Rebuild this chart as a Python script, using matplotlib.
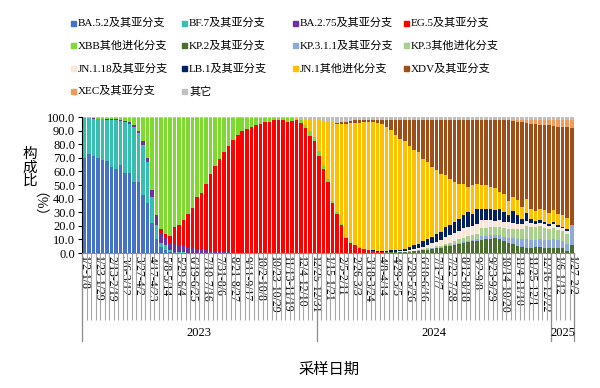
import numpy as np
import pandas as pd
import matplotlib
matplotlib.use("Agg")
import matplotlib.pyplot as plt
from matplotlib.patches import Rectangle
import matplotlib.transforms as mtransforms

plt.rcParams['font.family'] = ['Liberation Serif', 'Noto Sans CJK SC']

# DATA (weekly share, %), stack order bottom -> top
FIRST_WEEK = "2023-01-02"
N_WEEKS = 109

names = ["BA.5.2及其亚分支", "BF.7及其亚分支", "BA.2.75及其亚分支", "EG.5及其亚分支",
         "XBB其他进化分支", "KP.2及其亚分支", "KP.3.1.1及其亚分支", "KP.3其他进化分支",
         "JN.1.18及其亚分支", "LB.1及其亚分支", "JN.1其他进化分支", "XDV及其亚分支",
         "XEC及其亚分支", "其它"]
colors = ["#4472C4", "#36BFB0", "#7030A0", "#FF0000", "#7CDB2E", "#4A6E2E", "#8EA9DB",
          "#A9D18E", "#FBE5D6", "#002060", "#FFC000", "#9E4F18", "#F19A5C", "#BFBFBF"]

ba52 = [69.5, 72.5, 71, 69.5, 68.5, 67.5, 63, 62, 64.5, 58.6, 58.6, 52.5, 52.5, 43, 36.5,
        22, 10.5, 4.4, 2.5, 1, 0.5, 0.3, 0.2] + [0] * 86
bf7 = [29.5, 26.5, 27.5, 29, 29.9, 30.6, 35, 35.8, 32.8, 37.6, 36.6, 40.5, 35.5, 36.5, 30.5,
       19, 10, 2.6, 3.5, 1, 0.5, 0.3, 0.2] + [0] * 86
ba275 = [0, 0, 0.5, 0.3, 0.3, 0.5, 0.5, 0.5, 0.5, 0.8, 0.8, 1, 1.5, 2.5, 3, 5, 6.5, 7.5,
         5.5, 5.5, 5.5, 5.5, 4.5, 4, 3.5, 3, 3, 2, 1.5, 1, 1, 0.7, 0.5, 0.3, 0.2, 0.1] + [0] * 73
eg5 = [0] * 16 + [1, 3, 2.7, 5, 12.5, 14.2, 19.1, 25, 29.8, 38, 41, 49, 56.5, 63, 68, 73.3,
                  78.5, 82.7, 86.8, 89.6, 91.4, 92.6, 93.9, 95.1, 96.3, 96.3, 97.5, 97.8, 97.5,
                  96.3, 96.9, 97.5, 95.5, 92, 86, 82, 71.5, 62, 52, 36.5, 29, 20.5, 11, 7.5,
                  5.8, 4, 3, 2.2, 1.5, 1, 0.5, 0.3, 0.2] + [0] * 40
xbb = [0, 0, 0, 0.2, 0.3, 0.4, 0.5, 0.7, 1.2, 2, 3, 5, 9.5, 17, 29, 53, 71, 81.5, 84.8, 86.5,
       80, 78.7, 75, 70, 65.7, 58, 55, 48, 41, 35, 30, 25, 20, 16, 12, 9.3, 7.6, 6.4, 5.1, 3.9,
       2.7, 2.7, 1.5, 1.2, 1.5, 2.7, 2.1, 1.2, 2, 2, 4, 3.2, 3.5, 2.5, 2.5, 2, 1.5, 1, 0.5,
       0.5, 0.3, 0.2] + [0] * 47
kp2 = [0] * 66 + [0.2, 0.3, 0.4, 0.5, 0.6, 0.8, 1.0, 1.3, 1.6, 2.0, 2.5, 3.0, 3.5, 4.0, 5.0,
                  5.5, 6.0, 6.8, 7.5, 8.0, 8.5, 9.0, 9.8, 10.0, 10.5, 11.0, 10.0, 8.6, 7.4, 6.5,
                  5.0, 4.5, 4.0, 3.8, 4.4, 4.2, 3.7, 3.5, 3.7, 3.5, 4.0, 1.5, 5.6]
kp311 = [0] * 70 + [0.1, 0.1, 0.2, 0.2, 0.3, 0.3, 0.4, 0.4, 0.5, 0.5, 0.6, 0.7, 0.8, 0.9, 1.0,
                    1.0, 1.0, 1.0, 2.5, 2.5, 2.5, 2.3, 3.0, 3.5, 4.0, 4.5, 5.0, 5.5, 6.0, 6.0,
                    5.5, 6.0, 6.0, 6.0, 6.5, 6.0, 5.0, 5.0, 14.7]
kp3 = [0] * 71 + [0.1, 0.2, 0.3, 0.3, 0.4, 0.5, 0.6, 0.8, 1.0, 1.2, 1.5, 2.0, 2.4, 2.8, 3.2,
                  3.5, 3.7, 6.0, 6.0, 6.0, 5.5, 6.0, 6.5, 6.5, 7.0, 7.5, 8.0, 10.0, 9.5, 9.0,
                  9.5, 9.0, 8.5, 8.5, 7.5, 7.0, 7.5, 0]
jn118 = [0] * 66 + [0.3, 0.4, 0.5, 0.6, 0.7, 0.8, 1.0, 1.2, 1.5, 2.0, 2.5, 3.0, 3.6, 4.0, 5.0,
                    5.3, 5.8, 6.3, 6.8, 7.2, 6.5, 7.4, 5.7, 5.5, 5.6, 5.0, 5.5, 4.5, 4.6, 4.0,
                    3.5, 3.2, 3.4, 2.7, 2.4, 2.3, 2.4, 2.1, 2.4, 2.2, 2.1, 2.4, 0]
lb1 = [0] * 63 + [0.3, 0.5, 0.8, 0.8, 0.8, 1.0, 1.2, 1.1, 1.2, 2.0, 2.6, 3.2, 3.9, 4.6, 4.8,
                  5.8, 5.9, 7.3, 7.3, 8.2, 8.8, 9.6, 10.7, 9.5, 11.5, 8.6, 8.0, 8.0, 7.5, 7.5,
                  7.0, 5.5, 9.0, 7.0, 4.0, 6.0, 3.0, 2.0, 2.0, 1.5, 1.5, 1.5, 1.1, 1.0, 1.0, 0]
jn1 = [0] * 47 + [0.3, 1.0, 4.5, 8.5, 13.3, 22.5, 32.5, 42.0, 57.5, 64.7, 73.5, 83.5, 87.5,
                  89.4, 91.3, 93.0, 93.5, 94.0, 93.7, 93.2, 91.2, 88.4, 84.7, 81.5, 79.0, 74.6,
                  69.9, 67.4, 60.7, 56.5, 51.4, 46.6, 42.9, 38.0, 34.3, 29.4, 25.8, 23.3, 18.4,
                  20.8, 18.4, 17.6, 17.8, 15.9, 16.5, 12.9, 13.5, 10.0, 10.2, 10.7, 8.6, 10.1,
                  7.6, 7.3, 8.6, 9.2, 8.0, 9.2, 8.6, 8.6, 8.3, 0]
xdv = [0] * 56 + [0.3, 1, 1.5, 1.5, 2, 2, 2, 2, 2, 2.5, 3, 5, 7.5, 11, 14, 16, 19, 22.5, 23.7,
                  28.7, 31, 34.8, 37.2, 39.7, 40.9, 43.4, 45.8, 47, 47, 49.5, 48.2, 47, 47.8,
                  48.2, 49.5, 50.2, 53.1, 54.4, 59.5, 55.8, 57.8, 62.2, 56, 62.4, 64.4, 61.9,
                  62.2, 64.4, 61.7, 64.1, 65.3, 66.8, 71.7]
xec = [0] * 94 + [0.5, 1, 1.5, 2, 2.5, 3, 3, 3.5, 4, 4, 4.5, 5, 5, 5.5, 6]
other = [1.0] * 48 + [1.5, 1.5, 1.5, 1.5, 2.5, 3, 3.5, 4, 4.5, 4, 3.5, 3, 2.5, 2.5] + [2.0] * 47

series = [ba52, bf7, ba275, eg5, xbb, kp2, kp311, kp3, jn118, lb1, jn1, xdv, xec, other]

# weeks and labels
starts = pd.date_range(FIRST_WEEK, periods=N_WEEKS, freq="7D")
ends = starts + pd.Timedelta(days=6)
week_labels = [f"{s.month}/{s.day}-{e.month}/{e.day}" for s, e in zip(starts, ends)]
years = np.array(ends.year)

fig = plt.figure(figsize=(6, 3.88), dpi=100)
ax = fig.add_axes([0.1367, 0.3479, 0.82, 0.3505])

x = np.arange(N_WEEKS)
bottom = np.zeros(N_WEEKS)
for vals, c in zip(series, colors):
    vals = np.array(vals, dtype=float)
    ax.bar(x, vals, bottom=bottom, width=0.78, color=c, linewidth=0)
    bottom += vals

ax.set_xlim(-0.5, N_WEEKS - 0.5)
ax.set_ylim(0, 100)
ax.set_yticks(np.arange(0, 101, 10))
ax.set_yticklabels([f"{v:.1f}" for v in range(0, 101, 10)], fontsize=9)
ax.tick_params(axis='y', direction='out', length=3, width=0.8, pad=2)

for s in ['top', 'right']:
    ax.spines[s].set_visible(False)
ax.spines['left'].set_color('black')
ax.spines['bottom'].set_color('#8C8C8C')

# category axis: label every third week, lines between all weeks
shown = x[::3]
ax.set_xticks(shown)
ax.set_xticklabels([week_labels[i] for i in shown], rotation=270, fontsize=8.5,
                   va='top', ha='center')
ax.tick_params(axis='x', which='major', length=0, pad=2)
ax.set_xticks(np.arange(N_WEEKS + 1) - 0.5, minor=True)
ax.tick_params(axis='x', which='minor', length=48, width=0.8, color='#A6A6A6')

# year groups
trans = mtransforms.blended_transform_factory(ax.transData, ax.transAxes)
cuts = [-0.5] + list(np.where(np.diff(years) != 0)[0] + 0.5) + [N_WEEKS - 0.5]
for b in cuts:
    ax.plot([b, b], [0, -0.65], transform=trans, color='#8C8C8C', lw=0.9, clip_on=False)
for k in range(len(cuts) - 1):
    yr = years[int(cuts[k] + 0.5)]
    ax.text((cuts[k] + cuts[k + 1]) / 2, -0.59, str(yr), transform=trans,
            ha='center', va='center', fontsize=9)

# axis titles
fig.text(0.05, 0.567, "构\n成\n比", ha='center', va='center', fontsize=10.5, linespacing=1.0)
fig.text(0.05, 0.455, "（%）", ha='center', va='center', fontsize=10, rotation=270)
fig.text(0.548, 0.046, "采样日期", ha='center', va='center', fontsize=11)

# legend (4 columns, fixed grid like the original)
for k, (name, c) in enumerate(zip(names, colors)):
    col, row = k % 4, k // 4
    lx = (71 + col * 111) / 600
    ly = 1 - (23 + row * 22.7) / 388
    fig.patches.append(Rectangle((lx, ly - 2.5 / 388), 5 / 600, 5 / 388,
                                 transform=fig.transFigure, color=c, figure=fig))
    fig.text(lx + 7 / 600, ly, name, ha='left', va='center', fontsize=8)

fig.savefig("out.png", dpi=100)
